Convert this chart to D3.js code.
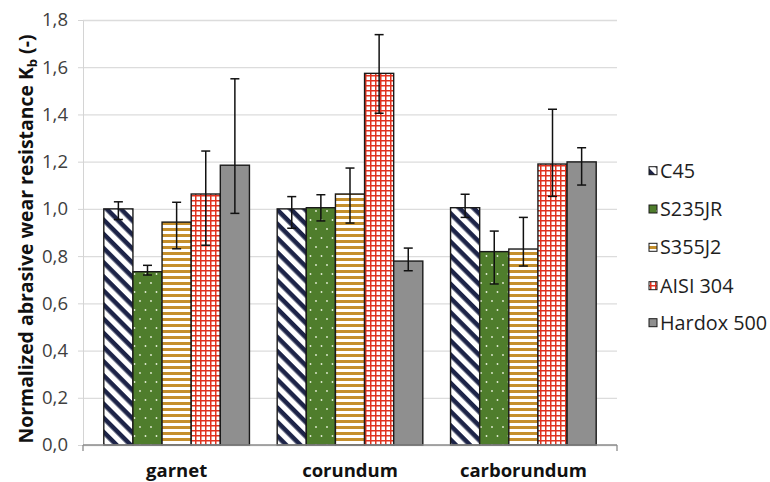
<!DOCTYPE html>
<html>
<head>
<meta charset="utf-8">
<script src="https://cdn.jsdelivr.net/npm/d3@7"></script>
<style>
  html, body { margin: 0; padding: 0; background: #fff; }
  svg { display: block; font-family: "Open Sans", "Liberation Sans", sans-serif; }
</style>
</head>
<body>
<svg id="chart" width="770" height="482"></svg>
<script>
// Abrasive media (x categories) and tested materials (series)
const categories = ["garnet", "corundum", "carborundum"];
const series = ["C45", "S235JR", "S355J2", "AISI 304", "Hardox 500"];

// Mean normalized abrasive wear resistance per material, in category order
const valuesC45    = [1.00, 1.00, 1.005];
const valuesS235JR = [0.734, 1.005, 0.819];
const valuesS355J2 = [0.944, 1.063, 0.830];
const valuesAISI   = [1.063, 1.574, 1.190];
const valuesHardox = [1.185, 0.779, 1.199];

// Upper and lower ends of the error bars
const errTopC45    = [1.030, 1.052, 1.062];
const errBotC45    = [0.955, 0.918, 0.964];
const errTopS235JR = [0.761, 1.060, 0.906];
const errBotS235JR = [0.720, 0.949, 0.682];
const errTopS355J2 = [1.028, 1.173, 0.964];
const errBotS355J2 = [0.831, 0.940, 0.758];
const errTopAISI   = [1.245, 1.738, 1.422];
const errBotAISI   = [0.846, 1.405, 1.053];
const errTopHardox = [1.551, 0.834, 1.259];
const errBotHardox = [0.981, 0.738, 1.101];

const yTicks = [0, 0.2, 0.4, 0.6, 0.8, 1.0, 1.2, 1.4, 1.6, 1.8];

const seriesValues = [valuesC45, valuesS235JR, valuesS355J2, valuesAISI, valuesHardox];
const seriesTop = [errTopC45, errTopS235JR, errTopS355J2, errTopAISI, errTopHardox];
const seriesBot = [errBotC45, errBotS235JR, errBotS355J2, errBotAISI, errBotHardox];

// Flat table of bars built from the arrays above
const rows = [];
categories.forEach((c, ci) => {
  series.forEach((s, si) => {
    rows.push({ cat: c, ser: s, si, value: seriesValues[si][ci], top: seriesTop[si][ci], bot: seriesBot[si][ci] });
  });
});

const svg = d3.select("#chart");
const plot = { left: 83, right: 617, top: 20, bottom: 445 };

const y = d3.scaleLinear().domain([0, 1.8]).range([plot.bottom, plot.top]);
const x0 = d3.scaleBand().domain(categories).range([plot.left, plot.right]).paddingInner(0.16).paddingOuter(0.12);
const x1 = d3.scaleBand().domain(series).range([0, x0.bandwidth()]);

const locale = d3.formatLocale({ decimal: ",", thousands: ".", grouping: [3], currency: ["", ""] });
const fmt = locale.format(".1f");

// Fill patterns for each material
const defs = svg.append("defs");

const pDiag = defs.append("pattern").attr("id", "pat-c45")
  .attr("patternUnits", "userSpaceOnUse").attr("width", 10).attr("height", 10)
  .attr("patternTransform", "rotate(45)");
pDiag.append("rect").attr("width", 10).attr("height", 10).attr("fill", "#fff");
pDiag.append("rect").attr("width", 10).attr("height", 4.6).attr("fill", "#1d2448");

const pDots = defs.append("pattern").attr("id", "pat-s235")
  .attr("patternUnits", "userSpaceOnUse").attr("width", 11).attr("height", 18);
pDots.append("rect").attr("width", 11).attr("height", 18).attr("fill", "#4f7d2c");
pDots.append("circle").attr("cx", 2.5).attr("cy", 4).attr("r", 0.9).attr("fill", "#e6efd8");
pDots.append("circle").attr("cx", 8).attr("cy", 13).attr("r", 0.9).attr("fill", "#e6efd8");

const pStripe = defs.append("pattern").attr("id", "pat-s355")
  .attr("patternUnits", "userSpaceOnUse").attr("width", 6).attr("height", 6);
pStripe.append("rect").attr("width", 6).attr("height", 6).attr("fill", "#fff");
pStripe.append("rect").attr("width", 6).attr("height", 3).attr("fill", "#c58f2c");

const pGrid = defs.append("pattern").attr("id", "pat-aisi")
  .attr("patternUnits", "userSpaceOnUse").attr("width", 5).attr("height", 5);
pGrid.append("rect").attr("width", 5).attr("height", 5).attr("fill", "#fff");
pGrid.append("rect").attr("width", 1.5).attr("height", 5).attr("fill", "#e0321f");
pGrid.append("rect").attr("width", 5).attr("height", 1.5).attr("fill", "#e0321f");

const fills = ["url(#pat-c45)", "url(#pat-s235)", "url(#pat-s355)", "url(#pat-aisi)", "#8f8f8f"];

// Horizontal gridlines
svg.append("g")
  .attr("transform", `translate(${plot.left},0)`)
  .call(d3.axisLeft(y).tickValues(yTicks).tickSize(-(plot.right - plot.left)).tickFormat(""))
  .call(g => g.select(".domain").remove())
  .call(g => g.selectAll("line").attr("stroke", "#dcdcdc").attr("stroke-width", 1.3));

// Y axis with tick labels
svg.append("g")
  .attr("transform", `translate(${plot.left},0)`)
  .call(d3.axisLeft(y).tickValues(yTicks).tickSize(5).tickSizeOuter(0).tickPadding(10).tickFormat(fmt))
  .call(g => g.select(".domain").attr("stroke", "#d4d4d4"))
  .call(g => g.selectAll("line").attr("stroke", "#d4d4d4"))
  .call(g => g.selectAll("text").attr("font-size", 18.5).attr("fill", "#404040")
    .attr("font-family", "'Open Sans', sans-serif"));

// Bars
const bars = svg.append("g");
bars.selectAll("rect").data(rows).join("rect")
  .attr("x", d => x0(d.cat) + x1(d.ser))
  .attr("y", d => y(d.value))
  .attr("width", x1.bandwidth())
  .attr("height", d => y(0) - y(d.value))
  .attr("fill", d => fills[d.si])
  .attr("stroke", "#1a1a1a")
  .attr("stroke-width", 1.4);

// Error bars
const eb = svg.append("g").attr("stroke", "#111").attr("stroke-width", 1.5).attr("fill", "none");
const cx = d => x0(d.cat) + x1(d.ser) + x1.bandwidth() / 2;
eb.selectAll("line.v").data(rows).join("line").attr("class", "v")
  .attr("x1", cx).attr("x2", cx).attr("y1", d => y(d.top)).attr("y2", d => y(d.bot));
eb.selectAll("line.t").data(rows).join("line").attr("class", "t")
  .attr("x1", d => cx(d) - 4.5).attr("x2", d => cx(d) + 4.5).attr("y1", d => y(d.top)).attr("y2", d => y(d.top));
eb.selectAll("line.b").data(rows).join("line").attr("class", "b")
  .attr("x1", d => cx(d) - 4.5).attr("x2", d => cx(d) + 4.5).attr("y1", d => y(d.bot)).attr("y2", d => y(d.bot));

// Category axis
const xa = svg.append("g");
xa.append("line").attr("x1", plot.left).attr("x2", plot.right).attr("y1", y(0)).attr("y2", y(0))
  .attr("stroke", "#8c8c8c").attr("stroke-width", 1.3);
[plot.left, plot.right].forEach(px => {
  xa.append("line").attr("x1", px).attr("x2", px).attr("y1", y(0)).attr("y2", y(0) + 6)
    .attr("stroke", "#8c8c8c").attr("stroke-width", 1.3);
});
xa.selectAll("text").data(categories).join("text")
  .attr("x", d => x0(d) + x0.bandwidth() / 2)
  .attr("y", 477)
  .attr("text-anchor", "middle")
  .attr("font-size", 18.5)
  .attr("font-weight", "bold")
  .attr("fill", "#111")
  .text(d => d);

// Y axis title
const title = svg.append("text")
  .attr("transform", "translate(33,239) rotate(-90)")
  .attr("text-anchor", "middle")
  .attr("font-size", 19.4)
  .attr("font-weight", "bold")
  .attr("fill", "#111");
title.append("tspan").text("Normalized abrasive wear resistance K");
title.append("tspan").attr("font-size", 13).attr("dy", 4).text("b");
title.append("tspan").attr("dy", -4).text(" (-)");

// Legend
const legendY = [170.7, 209, 247.3, 285.7, 322.7];
const lg = svg.append("g");
series.forEach((s, i) => {
  lg.append("rect").attr("x", 649).attr("y", legendY[i] - 4).attr("width", 8).attr("height", 8)
    .attr("fill", fills[i]).attr("stroke", "#1a1a1a").attr("stroke-width", 1);
  lg.append("text").attr("x", 660).attr("y", legendY[i]).attr("dy", "0.36em")
    .attr("font-size", 19.8).attr("fill", "#1e1e1e").text(s);
});
</script>
</body>
</html>
